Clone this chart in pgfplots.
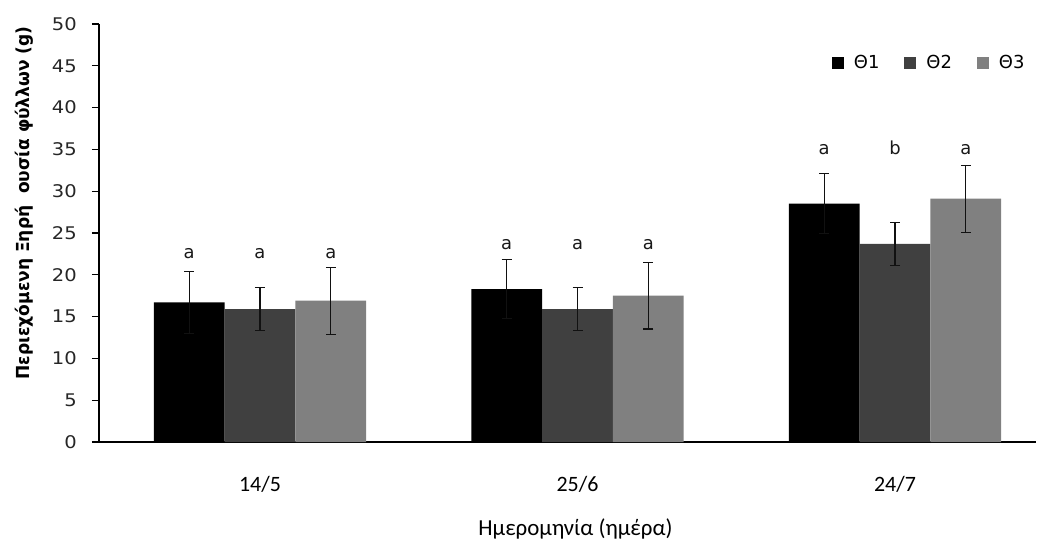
\documentclass[border=0pt]{standalone}
\usepackage{pgfplots}
\pgfplotsset{compat=1.18}
\usepackage{fontspec}
\setmainfont{DejaVu Sans}
\newfontfamily\calfont{Carlito}
\newfontfamily\tickfont[FakeStretch=1.12]{DejaVu Sans}
\newfontfamily\ylabfont[FakeStretch=0.95]{DejaVu Sans}
\definecolor{cA}{HTML}{000000}
\definecolor{cB}{HTML}{404040}
\definecolor{cC}{HTML}{808080}
\definecolor{errc}{HTML}{111111}
\pgfplotstableread{
x y e
0 16.7 3.7
1 18.3 3.5
2 28.5 3.6
}\tA
\pgfplotstableread{
x y e
0 15.9 2.6
1 15.9 2.6
2 23.7 2.55
}\tB
\pgfplotstableread{
x y e
0 16.9 4.0
1 17.5 4.0
2 29.1 4.0
}\tC
\begin{document}
\begin{tikzpicture}
\begin{axis}[
  name=ax,
  scale only axis,
  width=937bp, height=418bp,
  xmin=-0.507, xmax=2.444,
  ymin=0, ymax=50,
  ytick={0,5,...,50},
  xtick={0,1,2},
  xticklabels={14/5,25/6,24/7},
  axis lines=left,
  axis line style={-, line width=1.4bp, black},
  tick align=outside,
  major tick length=7bp,
  ytick style={line width=1.2bp, black},
  xtick style={draw=none},
  /pgf/number format/assume math mode=true,
  yticklabel style={font=\tickfont\fontsize{17.5}{17.5}\selectfont, text=black!85, inner sep=0pt},
  yticklabel shift=15bp,
  xticklabel style={font=\calfont\fontsize{22}{22}\selectfont, inner sep=0pt},
  xticklabel shift=27bp,
  ylabel={\ylabfont\bfseries Περιεχόμενη Ξηρή\ \ ουσία φύλλων (g)},
  every axis y label/.style={at={(axis description cs:-0.080,0.572)}, rotate=90, anchor=center, font=\fontsize{18}{18}\selectfont},
  xlabel={\calfont Ημερομηνία (ημέρα)},
  every axis x label/.style={at={(axis description cs:0.5085,-0.2225)}, anchor=base, font=\fontsize{23}{23}\selectfont},
  ybar,
  bar width=0.223,
  clip=false,
  legend columns=3,
  legend style={draw=none, fill=none, at={(axis description cs:0.782,0.907)}, anchor=west, inner sep=0pt,
    font=\fontsize{18}{18}\selectfont, column sep=7bp,
    /tikz/every even column/.append style={column sep=22bp},
    nodes={inner sep=3bp}},
  legend image code/.code={\fill[#1] (0bp,-6bp) rectangle (12bp,6bp);},
  error bars/error bar style={line width=1.3bp, errc},
  error bars/error mark options={rotate=90, mark size=5bp, line width=1.3bp, errc},
]
\addplot[fill=cA, draw=none, bar shift=-0.223,
  error bars/.cd, y dir=both, y explicit] table[x=x, y=y, y error=e] {\tA};
\addlegendentry{Θ1}
\addplot[fill=cB, draw=none, bar shift=0,
  error bars/.cd, y dir=both, y explicit] table[x=x, y=y, y error=e] {\tB};
\addlegendentry{Θ2}
\addplot[fill=cC, draw=none, bar shift=0.223,
  error bars/.cd, y dir=both, y explicit] table[x=x, y=y, y error=e] {\tC};
\addlegendentry{Θ3}
\begin{scope}[every node/.style={anchor=base, font=\fontsize{18}{18}\selectfont, text=black!90}]
\node at (axis cs:-0.223,22.0) {a};
\node at (axis cs:0,22.0) {a};
\node at (axis cs:0.223,22.0) {a};
\node at (axis cs:0.777,23.05) {a};
\node at (axis cs:1,23.05) {a};
\node at (axis cs:1.223,23.05) {a};
\node at (axis cs:1.777,34.45) {a};
\node at (axis cs:2,34.45) {b};
\node at (axis cs:2.223,34.45) {a};
\end{scope}
\end{axis}
\path ([shift={(-99bp,-100bp)}]ax.south west) rectangle ([shift={(940bp,442bp)}]ax.south west);
\end{tikzpicture}
\end{document}
